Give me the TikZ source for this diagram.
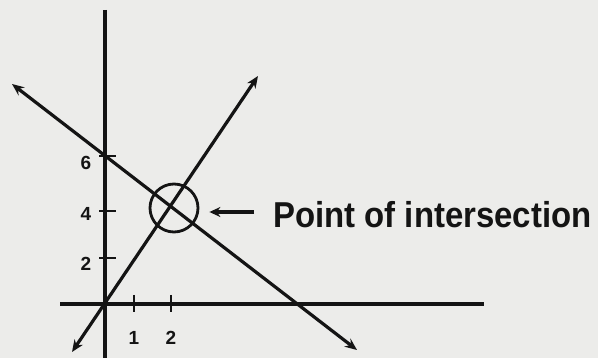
\documentclass[tikz,border=0pt]{standalone}
\usepackage{graphicx}
\usepackage{fontspec}
\setmainfont{Liberation Sans}
\usetikzlibrary{arrows.meta}
\definecolor{paper}{RGB}{236,236,234}
\definecolor{ink}{RGB}{20,20,20}
\tikzset{
  axis/.style={draw=ink, line width=3.2pt},
  graphline/.style={draw=ink, line width=3.2pt, {Stealth[length=12pt,width=10pt]}-{Stealth[length=12pt,width=10pt]}},
  tickmark/.style={draw=ink, line width=2.6pt},
  ticklabel/.style={text=ink, inner sep=0pt, font=\bfseries\fontsize{19}{19}\selectfont},
  ring/.style={circle, draw=ink, line width=2.8pt, minimum size=48pt, inner sep=0pt},
  pointer/.style={draw=ink, line width=3.2pt, -{Stealth[length=11pt,width=10pt]}},
  caption/.style={text=ink, inner sep=0pt, font=\bfseries\fontsize{36}{36}\selectfont}
}
\begin{document}
\begin{tikzpicture}[x=1pt,y=-1pt]
\fill[paper] (0,0) rectangle (598,358);
\useasboundingbox (0,0) rectangle (598,358);
% axes
\coordinate (Ytop) at (105,10);
\coordinate (Ybot) at (105,358);
\coordinate (Xl) at (60,304);
\coordinate (Xr) at (484,304);
\draw[axis] (Ytop) -- (Ybot);
\draw[axis] (Xl) -- (Xr);
% ticks y
\coordinate (y6a) at (99,156); \coordinate (y6b) at (116,156);
\coordinate (y4a) at (99,211); \coordinate (y4b) at (116,211);
\coordinate (y2a) at (99,258); \coordinate (y2b) at (116,258);
\draw[tickmark] (y6a) -- (y6b);
\draw[tickmark] (y4a) -- (y4b);
\draw[tickmark] (y2a) -- (y2b);
\node[ticklabel] (l6) at (86,163) {6};
\node[ticklabel] (l4) at (86,214) {4};
\node[ticklabel] (l2) at (86,264) {2};
% ticks x
\coordinate (x1a) at (134,295); \coordinate (x1b) at (134,312);
\coordinate (x2a) at (171,295); \coordinate (x2b) at (171,312);
\draw[tickmark] (x1a) -- (x1b);
\draw[tickmark] (x2a) -- (x2b);
\node[ticklabel] (l1) at (134,338) {1};
\node[ticklabel] (lx2) at (171,338) {2};
% lines
\coordinate (A1) at (72,352);
\coordinate (A2) at (258,76);
\coordinate (B1) at (12,84);
\coordinate (B2) at (357,350);
\draw[graphline] (A1) -- (A2);
\draw[graphline] (B1) -- (B2);
% circle and caption
\node[ring] (C) at (174,208) {};
\node[caption, anchor=base west] (T) at (273,228) {\scalebox{0.915}[1]{Point of intersection}};
\coordinate (Pt) at (254,212);
\draw[pointer] (Pt) -- ([xshift=10pt]C.east |- Pt);
\end{tikzpicture}
\end{document}
